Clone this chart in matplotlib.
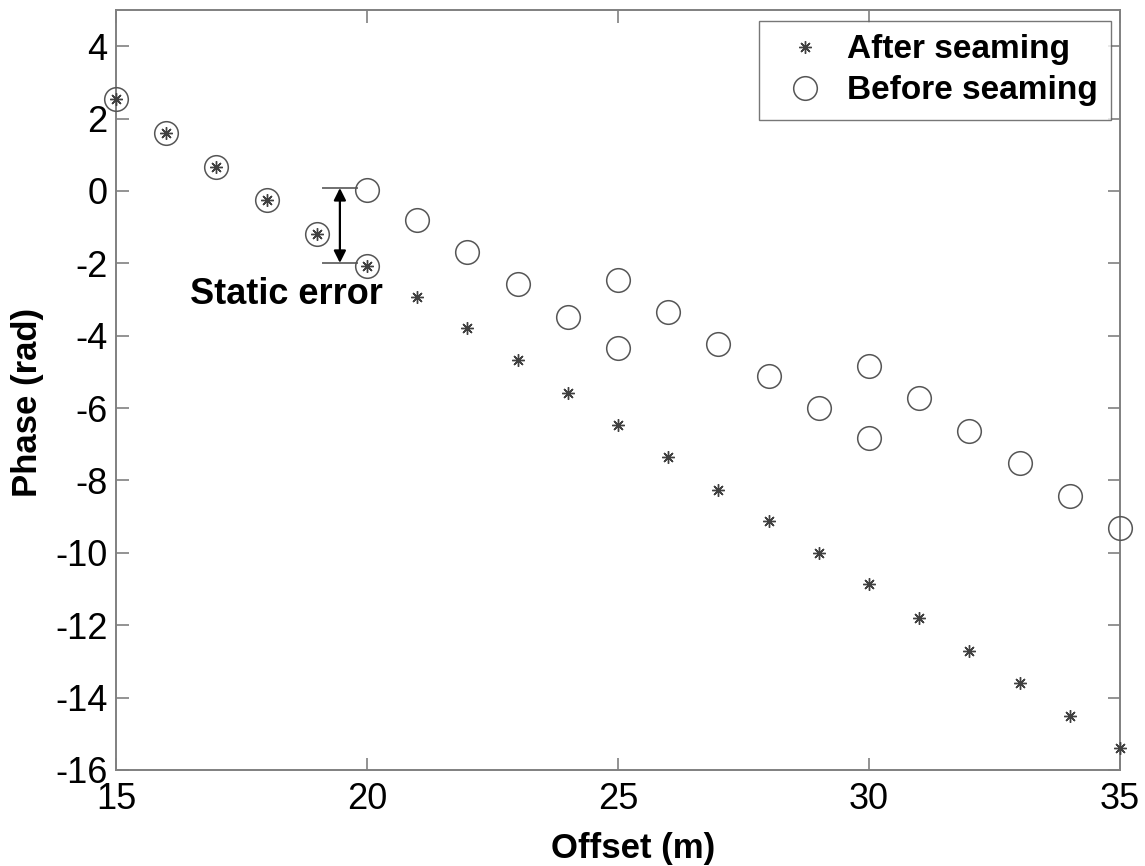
import matplotlib
matplotlib.use("Agg")
import matplotlib.pyplot as plt

plt.rcParams['font.family'] = ['Liberation Sans', 'DejaVu Sans']
plt.rcParams['axes.unicode_minus'] = False

# Phase after seaming (continuous profile)
offset_after = [15, 16, 17, 18, 19, 20, 21, 22, 23, 24, 25,
                26, 27, 28, 29, 30, 31, 32, 33, 34, 35]
phase_after = [2.53, 1.60, 0.67, -0.25, -1.18, -2.07, -2.94, -3.80, -4.67, -5.58, -6.47,
               -7.36, -8.26, -9.11, -10.01, -10.87, -11.81, -12.70, -13.61, -14.51, -15.40]

# Phase before seaming (four wrapped segments, shared end points repeated)
offset_before = [15, 16, 17, 18, 19, 20,
                 20, 21, 22, 23, 24, 25,
                 25, 26, 27, 28, 29, 30,
                 30, 31, 32, 33, 34, 35]
phase_before = [2.53, 1.60, 0.67, -0.25, -1.18, -2.07,
                0.03, -0.81, -1.70, -2.56, -3.48, -4.35,
                -2.45, -3.34, -4.23, -5.11, -5.99, -6.84,
                -4.83, -5.73, -6.64, -7.53, -8.42, -9.32]

x_ticks = [15, 20, 25, 30, 35]
y_ticks = [-16, -14, -12, -10, -8, -6, -4, -2, 0, 2, 4]

# static error bracket at offset 20
err_top, err_bottom = 0.08, -1.99

fig = plt.figure(figsize=(11.45, 8.66), dpi=100)
ax = fig.add_axes([0.1013, 0.1109, 0.8769, 0.8776])

asterisk = (8, 2, 0)
ax.plot(offset_after, phase_after, linestyle='none', marker=asterisk,
        markersize=9, markeredgewidth=1.0, color='#404040', label='After seaming',
        clip_on=False, zorder=3)
ax.plot(offset_before, phase_before, linestyle='none', marker='o',
        markersize=17, markerfacecolor='none', markeredgewidth=1.1,
        markeredgecolor='#555555', label='Before seaming', clip_on=False, zorder=3)

# bracket lines and double arrow
ax.plot([19.12, 19.8], [err_top, err_top], color='#707070', lw=1.4)
ax.plot([19.12, 19.8], [err_bottom, err_bottom], color='#707070', lw=1.4)
ax.annotate('', xy=(19.46, err_bottom), xytext=(19.46, err_top),
            arrowprops=dict(arrowstyle='<|-|>', color='black', lw=1.6,
                            mutation_scale=18, shrinkA=0, shrinkB=0))
ax.text(16.47, -2.86, 'Static error', fontsize=26, fontweight='bold',
        ha='left', va='center', color='black')

ax.set_xlim(15, 35)
ax.set_ylim(-16, 5)
ax.set_xticks(x_ticks)
ax.set_yticks(y_ticks)
ax.set_xticklabels([str(v) for v in x_ticks])
ax.set_yticklabels([str(v) for v in y_ticks])

for side in ['left', 'right', 'top', 'bottom']:
    ax.spines[side].set_color('#808080')
    ax.spines[side].set_linewidth(1.4)
ax.tick_params(direction='in', length=9, width=1.2, color='#808080',
               top=True, right=True, labelsize=26, labelcolor='black')
ax.tick_params(axis='x', pad=9)
ax.tick_params(axis='y', pad=6)

ax.set_xlabel('Offset (m)', fontsize=25, fontweight='bold')
ax.set_ylabel('Phase (rad)', fontsize=25, fontweight='bold')
ax.xaxis.set_label_coords(0.515, -0.081)
ax.yaxis.set_label_coords(-0.072, 0.484)

leg = ax.legend(loc='upper right', bbox_to_anchor=(0.991, 0.9855),
                prop={'weight': 'bold', 'size': 24},
                frameon=True, fancybox=False, shadow=False,
                borderpad=0.4, labelspacing=0.3, handletextpad=0.25,
                handlelength=2.0, borderaxespad=0)
leg.get_frame().set_edgecolor('#555555')
leg.get_frame().set_linewidth(1.0)

fig.savefig('out.png', dpi=100)
